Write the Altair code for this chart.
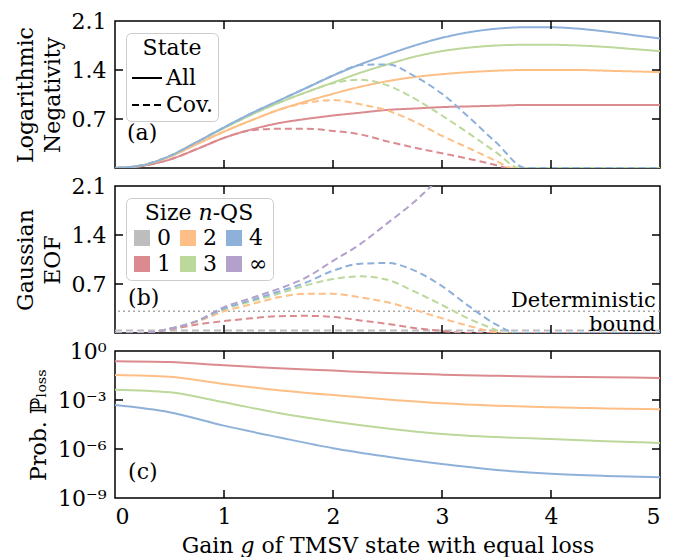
import altair as alt
import pandas as pd

FONT = "DejaVu Serif"
FS = 22
W, H = 545, 147
TL = 8  # inward tick length (px)

# ---------------- data ----------------
sizes = ["0", "1", "2", "3", "4", "∞"]
size_colors = ["#bdbdbd", "#db8b8f", "#fdbf86", "#bcd89b", "#8eb1da", "#b3a1cc"]

g_all = [0, 0.25, 0.5, 0.75, 1.0, 1.25, 1.5, 1.75, 2.0, 2.25, 2.5, 2.75, 3.0,
         3.25, 3.5, 3.75, 4.0, 4.25, 4.5, 4.75, 5.0]
ln_all_1 = [0, 0.03, 0.12, 0.27, 0.43, 0.55, 0.64, 0.70, 0.75, 0.79, 0.83, 0.85, 0.87,
            0.88, 0.89, 0.90, 0.90, 0.90, 0.90, 0.90, 0.90]
ln_all_2 = [0, 0.04, 0.16, 0.34, 0.52, 0.68, 0.83, 0.95, 1.06, 1.16, 1.24, 1.30, 1.34,
            1.37, 1.39, 1.40, 1.40, 1.40, 1.39, 1.38, 1.37]
ln_all_3 = [0, 0.04, 0.17, 0.37, 0.57, 0.76, 0.93, 1.08, 1.22, 1.36, 1.48, 1.59, 1.67,
            1.72, 1.75, 1.76, 1.76, 1.75, 1.73, 1.70, 1.67]
ln_all_4 = [0, 0.04, 0.17, 0.37, 0.58, 0.78, 0.96, 1.14, 1.32, 1.48, 1.62, 1.75, 1.86,
            1.94, 1.99, 2.01, 2.01, 1.99, 1.95, 1.90, 1.85]

g_cov_1 = [0, 0.25, 0.5, 0.75, 1.0, 1.25, 1.5, 1.75, 2.0, 2.25, 2.5, 2.75, 3.0, 3.25, 3.5, 3.6, 4.0, 4.5, 5.0]
ln_cov_1 = [0, 0.03, 0.12, 0.27, 0.43, 0.54, 0.56, 0.56, 0.53, 0.48, 0.38, 0.29, 0.21, 0.13, 0.04, 0, 0, 0, 0]
g_cov_2 = [0, 0.25, 0.5, 0.75, 1.0, 1.25, 1.5, 1.75, 2.0, 2.25, 2.5, 2.75, 3.0, 3.25, 3.5, 3.65, 4.0, 4.5, 5.0]
ln_cov_2 = [0, 0.04, 0.16, 0.34, 0.52, 0.68, 0.83, 0.93, 0.97, 0.91, 0.82, 0.66, 0.46, 0.28, 0.10, 0, 0, 0, 0]
g_cov_3 = [0, 0.25, 0.5, 0.75, 1.0, 1.25, 1.5, 1.75, 2.0, 2.25, 2.5, 2.75, 3.0, 3.25, 3.5, 3.71, 4.0, 4.5, 5.0]
ln_cov_3 = [0, 0.04, 0.17, 0.37, 0.57, 0.76, 0.93, 1.08, 1.21, 1.26, 1.18, 0.99, 0.75, 0.49, 0.22, 0, 0, 0, 0]
g_cov_4 = [0, 0.25, 0.5, 0.75, 1.0, 1.25, 1.5, 1.75, 2.0, 2.25, 2.5, 2.75, 3.0, 3.25, 3.5, 3.77, 4.0, 4.5, 5.0]
ln_cov_4 = [0, 0.04, 0.17, 0.37, 0.58, 0.78, 0.96, 1.14, 1.32, 1.47, 1.48, 1.31, 1.06, 0.72, 0.36, 0, 0, 0, 0]

g_eof_0 = [0, 5.0]
eof_0 = [0.035, 0.035]
g_eof_1 = [0, 0.25, 0.5, 0.75, 1.0, 1.25, 1.5, 1.75, 2.0, 2.25, 2.5, 2.75, 3.0, 3.2, 4.0, 5.0]
eof_1 = [0, 0, 0.05, 0.12, 0.17, 0.21, 0.24, 0.245, 0.23, 0.18, 0.13, 0.07, 0.03, 0, 0, 0]
g_eof_2 = [0, 0.25, 0.5, 0.75, 1.0, 1.25, 1.5, 1.75, 2.0, 2.25, 2.5, 2.75, 3.0, 3.25, 3.5, 3.55, 4.0, 5.0]
eof_2 = [0, 0, 0.06, 0.16, 0.31, 0.41, 0.51, 0.56, 0.56, 0.51, 0.44, 0.33, 0.21, 0.10, 0.01, 0, 0, 0]
g_eof_3 = [0, 0.25, 0.5, 0.75, 1.0, 1.25, 1.5, 1.75, 2.0, 2.25, 2.5, 2.75, 3.0, 3.25, 3.5, 3.56, 4.0, 5.0]
eof_3 = [0, 0, 0.06, 0.17, 0.34, 0.45, 0.56, 0.68, 0.77, 0.81, 0.76, 0.59, 0.40, 0.20, 0.04, 0, 0, 0]
g_eof_4 = [0, 0.25, 0.5, 0.75, 1.0, 1.25, 1.5, 1.75, 2.0, 2.25, 2.5, 2.75, 3.0, 3.25, 3.5, 3.69, 4.0, 5.0]
eof_4 = [0, 0, 0.06, 0.17, 0.35, 0.47, 0.59, 0.72, 0.89, 0.99, 1.00, 0.89, 0.67, 0.38, 0.12, 0, 0, 0]
g_eof_inf = [0, 0.25, 0.5, 0.75, 1.0, 1.25, 1.5, 1.75, 2.0, 2.25, 2.5, 2.75, 3.0]
eof_inf = [0, 0, 0.06, 0.17, 0.37, 0.50, 0.63, 0.79, 1.03, 1.27, 1.57, 1.88, 2.25]
det_bound = [0.31]
det_text = "Deterministic|bound"

g_loss = [0, 0.5, 1.0, 1.5, 2.0, 2.5, 3.0, 3.5, 4.0, 4.5, 5.0]
loss_exp_1 = [-0.63, -0.68, -0.88, -1.05, -1.20, -1.35, -1.45, -1.52, -1.57, -1.61, -1.65]
loss_exp_2 = [-1.47, -1.58, -2.02, -2.40, -2.70, -2.97, -3.20, -3.35, -3.45, -3.52, -3.57]
loss_exp_3 = [-2.37, -2.53, -3.14, -3.80, -4.32, -4.75, -5.08, -5.27, -5.39, -5.52, -5.63]
loss_exp_4 = [-3.31, -3.75, -4.57, -5.28, -5.95, -6.47, -6.92, -7.28, -7.52, -7.65, -7.73]

x_ticks = [1, 2, 3, 4]
x_labels = [0, 1, 2, 3, 4, 5]
y_ticks_lin = [0.7, 1.4]
y_labels_lin = [0.7, 1.4, 2.1]
y_ticks_log = [1e-3, 1e-6]
y_labels_log = [1e0, 1e-3, 1e-6, 1e-9]
y_labels_log_text = ["10⁰", "10⁻³", "10⁻⁶", "10⁻⁹"]

# ---------------- frames ----------------
def long(pairs, **extra):
    rows = []
    for (gs, vs, n) in pairs:
        for g, v in zip(gs, vs):
            r = {"g": g, "v": v, "n": n}
            r.update(extra)
            rows.append(r)
    return pd.DataFrame(rows)

df_a = pd.concat([
    long([(g_all, ln_all_1, "1"), (g_all, ln_all_2, "2"), (g_all, ln_all_3, "3"), (g_all, ln_all_4, "4")], state="All"),
    long([(g_cov_1, ln_cov_1, "1"), (g_cov_2, ln_cov_2, "2"), (g_cov_3, ln_cov_3, "3"), (g_cov_4, ln_cov_4, "4")], state="Cov."),
])
df_b = long([(g_eof_0, eof_0, "0"), (g_eof_1, eof_1, "1"), (g_eof_2, eof_2, "2"),
             (g_eof_3, eof_3, "3"), (g_eof_4, eof_4, "4"), (g_eof_inf, eof_inf, "∞")])
df_c = long([(g_loss, [10 ** e for e in loss_exp_1], "1"), (g_loss, [10 ** e for e in loss_exp_2], "2"),
             (g_loss, [10 ** e for e in loss_exp_3], "3"), (g_loss, [10 ** e for e in loss_exp_4], "4")])

xs = alt.Scale(domain=[0, 5], nice=False, zero=False)
ys_lin = alt.Scale(domain=[0, 2.1], nice=False, zero=False)
ys_log = alt.Scale(type="log", domain=[1e-9, 1], nice=False)
cscale = alt.Scale(domain=sizes, range=size_colors)

def y_axis(title, values, fmt=None, expr=None):
    kw = dict(values=values, title=title, labelPadding=9, titlePadding=7, titleLineHeight=27)
    if fmt:
        kw["format"] = fmt
    if expr:
        kw["labelExpr"] = expr
    return alt.Axis(**kw)

def tick_layers(ysc, yt):
    dx = pd.DataFrame({"t": x_ticks})
    dy = pd.DataFrame({"t": yt})
    mk = dict(strokeWidth=1.5, color="black")
    top = alt.Chart(dx).mark_rule(**mk).encode(x=alt.X("t:Q", scale=xs), y=alt.value(0), y2=alt.value(TL))
    bot = alt.Chart(dx).mark_rule(**mk).encode(x=alt.X("t:Q", scale=xs), y=alt.value(H - TL), y2=alt.value(H))
    left = alt.Chart(dy).mark_rule(**mk).encode(y=alt.Y("t:Q", scale=ysc), x=alt.value(0), x2=alt.value(TL))
    right = alt.Chart(dy).mark_rule(**mk).encode(y=alt.Y("t:Q", scale=ysc), x=alt.value(W - TL), x2=alt.value(W))
    return [top, bot, left, right]

def tag(label, g, v, ysc):
    d = pd.DataFrame({"g": [g], "v": [v], "label": [label]})
    return alt.Chart(d).mark_text(align="left", baseline="middle", font=FONT, fontSize=FS, color="black").encode(
        x=alt.X("g:Q", scale=xs), y=alt.Y("v:Q", scale=ysc), text="label:N")

legend_box = dict(orient="none", legendX=11, legendY=12, padding=5, strokeColor="#cccccc",
                  fillColor="white", cornerRadius=5, titleFont=FONT, titleFontSize=FS,
                  titleFontWeight="normal", titleAnchor="middle", labelFont=FONT, labelFontSize=FS,
                  titleColor="black", labelColor="black")

# ---------------- panel a ----------------
lines_a = alt.Chart(df_a).mark_line(strokeWidth=2, clip=True, interpolate="monotone").encode(
    x=alt.X("g:Q", scale=xs, axis=None),
    y=alt.Y("v:Q", scale=ys_lin, axis=y_axis(["Logarithmic", "Negativity"], y_labels_lin, fmt=".1f")),
    color=alt.Color("n:N", scale=cscale, legend=None),
    strokeDash=alt.StrokeDash("state:N", scale=alt.Scale(domain=["All", "Cov."], range=[[1, 0], [7, 4]]),
                              legend=alt.Legend(title="State", symbolType="stroke", symbolSize=900,
                                                symbolStrokeWidth=2, symbolStrokeColor="black",
                                                rowPadding=0, labelOffset=3, titlePadding=2, **legend_box)),
)
panel_a = alt.layer(lines_a, *tick_layers(ys_lin, y_ticks_lin), tag("(a)", 0.11, 0.5, ys_lin)).properties(width=W, height=H)

# ---------------- panel b ----------------
legend_b = alt.Chart(df_b).mark_point(shape="square", filled=True, opacity=0).encode(
    x=alt.X("g:Q", scale=xs, axis=None),
    y=alt.Y("v:Q", scale=ys_lin, axis=y_axis(["Gaussian", "EOF"], y_labels_lin, fmt=".1f")),
    color=alt.Color("n:N", scale=cscale,
                    legend=alt.Legend(title="Size 𝑛-QS", columns=3, symbolType="square", symbolSize=256,
                                      symbolOpacity=1, symbolStrokeWidth=0, columnPadding=6, rowPadding=4,
                                      labelOffset=4, titlePadding=2, **legend_box)),
)
lines_b = alt.Chart(df_b).mark_line(strokeWidth=2, clip=True, interpolate="monotone", strokeDash=[7, 4]).encode(
    x=alt.X("g:Q", scale=xs),
    y=alt.Y("v:Q", scale=ys_lin),
    color=alt.Color("n:N", scale=cscale),
)
bound_rule = alt.Chart(pd.DataFrame({"v": det_bound})).mark_rule(color="#aaaaaa", strokeWidth=1.5, strokeDash=[2, 3]).encode(
    y=alt.Y("v:Q", scale=ys_lin))
bound_txt = alt.Chart(pd.DataFrame({"g": [4.96], "v": [0.37], "label": [det_text]})).mark_text(
    align="right", baseline="alphabetic", font=FONT, fontSize=21, color="black", lineBreak="|", lineHeight=24).encode(
    x=alt.X("g:Q", scale=xs), y=alt.Y("v:Q", scale=ys_lin), text="label:N")
panel_b = alt.layer(legend_b, bound_rule, lines_b, bound_txt, *tick_layers(ys_lin, y_ticks_lin),
                    tag("(b)", 0.12, 0.5, ys_lin)).properties(width=W, height=H)

# ---------------- panel c ----------------
log_expr = " : ".join(
    f"abs(datum.value - {v}) < {v} * 0.01 ? '{t}'" for v, t in zip(y_labels_log, y_labels_log_text)) + " : ''"
lines_c = alt.Chart(df_c).mark_line(strokeWidth=2, clip=True, interpolate="monotone").encode(
    x=alt.X("g:Q", scale=xs, axis=alt.Axis(values=x_labels, format="d", title="Gain 𝑔 of TMSV state with equal loss",
                                           labelPadding=8, titlePadding=8)),
    y=alt.Y("v:Q", scale=ys_log, axis=y_axis("Prob. ℙₗₒₛₛ", y_labels_log, expr=log_expr)),
    color=alt.Color("n:N", scale=cscale, legend=None),
)
panel_c = alt.layer(lines_c, *tick_layers(ys_log, y_ticks_log), tag("(c)", 0.12, 10 ** -7.43, ys_log)).properties(width=W, height=H)

chart = alt.vconcat(panel_a, panel_b, panel_c, spacing=18, bounds="flush").resolve_scale(
    color="independent", strokeDash="independent"
).properties(
    padding={"left": 5, "top": 1, "right": 5, "bottom": 0}, background="white"
).configure_view(stroke="black", strokeWidth=1.5).configure_axis(
    labelFont=FONT, titleFont=FONT, labelFontSize=FS, titleFontSize=FS, titleFontWeight="normal",
    labelColor="black", titleColor="black", domain=False, ticks=False, tickSize=0, grid=False
)

chart.save("out.html", embed_options={"renderer": "svg", "actions": False})
